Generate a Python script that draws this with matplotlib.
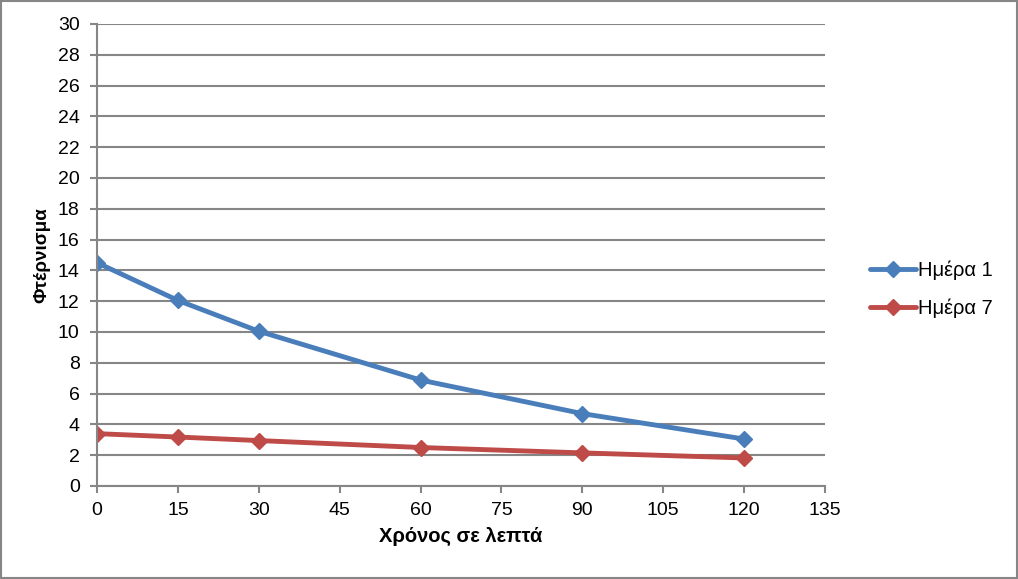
import matplotlib
matplotlib.use("Agg")
import matplotlib.pyplot as plt
from matplotlib.patches import Rectangle

plt.rcParams['font.family'] = ['Liberation Sans', 'DejaVu Sans']

minutes = [0, 15, 30, 60, 90, 120]
day1 = [14.5, 12.05, 10.05, 6.88, 4.7, 3.05]
day7 = [3.4, 3.18, 2.95, 2.5, 2.15, 1.82]
series_names = ["Ημέρα 1", "Ημέρα 7"]
colors = ["#4A7EBB", "#BE4B48"]
xlabel = "Χρόνος σε λεπτά"
ylabel = "Φτέρνισμα"

fig = plt.figure(figsize=(10.18, 5.79), dpi=100)
ax = fig.add_axes([97/1018, 1-486/579, (825-97)/1018, (486-24)/579])

for vals, name, c in zip([day1, day7], series_names, colors):
    ax.plot(minutes, vals, color=c, lw=3.5, marker='D', markersize=8.5,
            label=name, solid_capstyle='round')

ax.set_xlim(0, 135)
ax.set_ylim(0, 30)
ax.set_xticks(range(0, 136, 15))
ax.set_yticks(range(0, 31, 2))
ax.yaxis.grid(True, color='#868686', lw=1.5)
ax.set_axisbelow(True)
for s in ['top', 'right']:
    ax.spines[s].set_visible(False)
for s in ['left', 'bottom']:
    ax.spines[s].set_color('#868686')
    ax.spines[s].set_linewidth(1.5)
ax.tick_params(axis='both', colors='#868686', length=5, width=1.5,
               labelcolor='black', labelsize=14)
ax.tick_params(axis='y', pad=7.5)
ax.tick_params(axis='x', pad=6.5)
ax.set_xlabel(xlabel, fontsize=14.5, fontweight='bold', labelpad=6)
ax.set_ylabel(ylabel, fontsize=13.5, fontweight='bold', labelpad=5)

ax.legend(loc='center left', bbox_to_anchor=(852/1018, 1-289/579),
          bbox_transform=fig.transFigure, frameon=False, fontsize=14.5,
          handlelength=2.3, handletextpad=0.1, labelspacing=0.9)

fig.patches.append(Rectangle((1/1018, 1/579), 1-2/1018, 1-2/579,
                             transform=fig.transFigure, fill=False,
                             edgecolor='#868686', lw=1.5))
fig.savefig("out.png", dpi=100)
